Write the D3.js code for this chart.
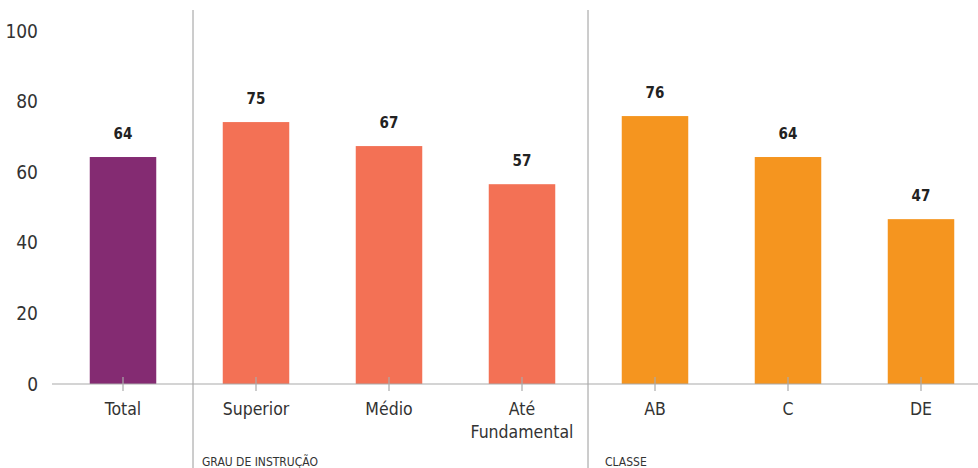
<!DOCTYPE html>
<html><head><meta charset="utf-8">
<script src="https://cdn.jsdelivr.net/npm/d3@7"></script>
<style>
html,body{margin:0;padding:0;background:#fff;}
svg text{font-family:"Liberation Sans Narrow","DejaVu Sans Condensed","Roboto",sans-serif;font-stretch:condensed;}
</style></head>
<body><svg id="c" width="978" height="468"></svg>
<script>
const categories = ["Total","Superior","Médio","Até\nFundamental","AB","C","DE"];
const values = [64.3, 74.2, 67.4, 56.6, 75.9, 64.3, 46.7];
const valueLabels = ["64","75","67","57","76","64","47"];
const groups = ["total","grau","grau","grau","classe","classe","classe"];
const groupLabels = [{name:"GRAU DE INSTRUÇÃO", first:1},{name:"CLASSE", first:4}];
const yTicks = [0,20,40,60,80,100];
const colors = {total:"#842b72", grau:"#f37155", classe:"#f5951f"};

const svg = d3.select("#c");
const x = d3.scaleBand().domain(categories).range([56.5,987.5]).paddingInner(0.5).paddingOuter(0.25);
const y = d3.scaleLinear().domain([0,100]).range([384,31]);

svg.append("g").selectAll("text").data(yTicks).join("text")
  .attr("x",38).attr("y",d=>y(d)).attr("dy","0.35em")
  .attr("text-anchor","end").attr("font-size",19).attr("fill","#333")
  .text(d=>d);

const sepX = [];
groupLabels.forEach((g,i)=>{
  const prevEnd = x(categories[g.first-1]) + x.bandwidth();
  const start = x(categories[g.first]);
  sepX.push((prevEnd+start)/2 + (i===0?3.5:-0.5));
});
svg.append("g").selectAll("line").data(sepX).join("line")
  .attr("x1",d=>d).attr("x2",d=>d).attr("y1",10).attr("y2",468)
  .attr("stroke","#9a9a9a").attr("stroke-width",1);

svg.append("g").selectAll("rect").data(values).join("rect")
  .attr("x",(d,i)=>x(categories[i])).attr("width",x.bandwidth())
  .attr("y",d=>y(d)).attr("height",d=>y(0)-y(d))
  .attr("fill",(d,i)=>colors[groups[i]]);

svg.append("line").attr("x1",52).attr("x2",978).attr("y1",y(0)).attr("y2",y(0))
  .attr("stroke","#aaa").attr("stroke-width",1.2);
svg.append("g").selectAll("line").data(categories).join("line")
  .attr("x1",d=>x(d)+x.bandwidth()/2).attr("x2",d=>x(d)+x.bandwidth()/2)
  .attr("y1",377).attr("y2",391).attr("stroke","#aaa").attr("stroke-width",1.2);

svg.append("g").selectAll("text").data(values).join("text")
  .attr("x",(d,i)=>x(categories[i])+x.bandwidth()/2).attr("y",d=>y(d)-18)
  .attr("text-anchor","middle").attr("font-size",15).attr("font-weight","bold").attr("fill","#222")
  .text((d,i)=>valueLabels[i]);

const cl = svg.append("g").selectAll("text").data(categories).join("text")
  .attr("x",d=>x(d)+x.bandwidth()/2).attr("y",415)
  .attr("text-anchor","middle").attr("font-size",17.5).attr("fill","#333");
cl.each(function(d){
  const t = d3.select(this);
  d.split("\n").forEach((line,k)=>{
    t.append("tspan").attr("x",x(d)+x.bandwidth()/2).attr("dy",k===0?0:23).text(line);
  });
});

svg.append("g").selectAll("text").data(groupLabels).join("text")
  .attr("x",(g,i)=>sepX[i]+(i===0?9:17)).attr("y",466)
  .attr("font-size",12).attr("fill","#333")
  .text(g=>g.name);
</script></body></html>
